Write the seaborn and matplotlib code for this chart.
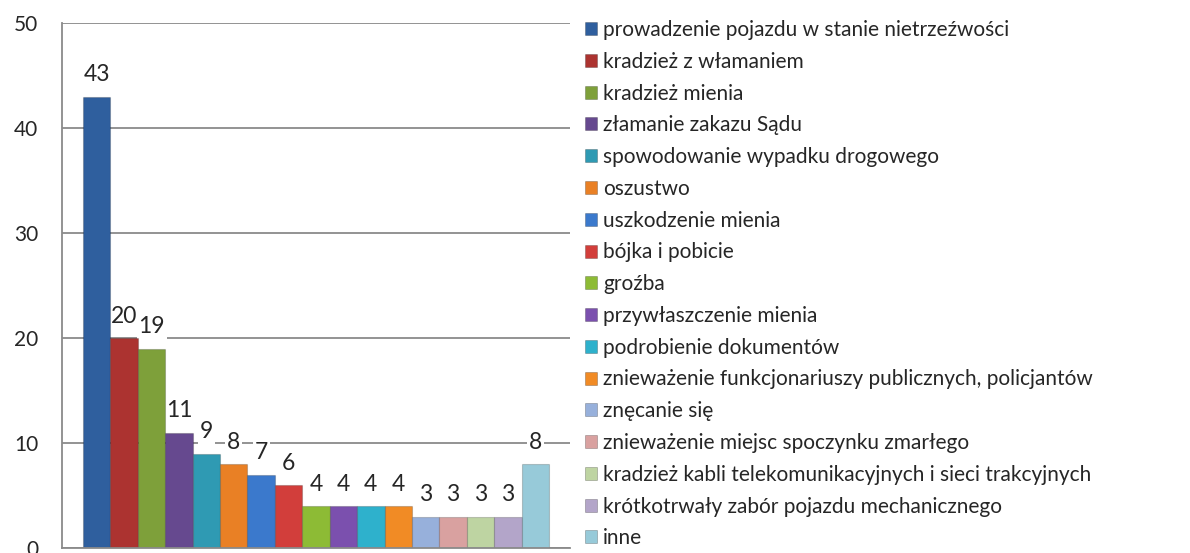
import matplotlib
matplotlib.use("Agg")
import matplotlib.pyplot as plt
import matplotlib.patches as mpatches
import seaborn as sns
import pandas as pd

categories = [
    "prowadzenie pojazdu w stanie nietrzeźwości",
    "kradzież z włamaniem",
    "kradzież mienia",
    "złamanie zakazu Sądu",
    "spowodowanie wypadku drogowego",
    "oszustwo",
    "uszkodzenie mienia",
    "bójka i pobicie",
    "groźba",
    "przywłaszczenie mienia",
    "podrobienie dokumentów",
    "znieważenie funkcjonariuszy publicznych, policjantów",
    "znęcanie się",
    "znieważenie miejsc spoczynku zmarłego",
    "kradzież kabli telekomunikacyjnych i sieci trakcyjnych",
    "krótkotrwały zabór pojazdu mechanicznego",
    "inne",
]
values = [43, 20, 19, 11, 9, 8, 7, 6, 4, 4, 4, 4, 3, 3, 3, 3, 8]
colors = [
    "#2F5F9E", "#AC3330", "#7EA03A", "#66498F", "#2F9AB3", "#E98025",
    "#3B79CC", "#D23E3B", "#8DBB35", "#7B50AE", "#2EB1CC", "#F18B25",
    "#97B0DB", "#D9A1A0", "#BED4A2", "#B3A5C9", "#97CAD9",
]
yticks = [0, 10, 20, 30, 40, 50]

sns.set_style("white")
plt.rcParams["font.family"] = ["Lato", "DejaVu Sans"]

fig = plt.figure(figsize=(11.9, 5.53), dpi=100)
ax = fig.add_axes([62 / 1190, 5 / 553, 508 / 1190, 525 / 553])

df = pd.DataFrame({"cat": categories, "val": values})
sns.barplot(data=df, x="cat", y="val", hue="cat", palette=colors,
            width=1.0, legend=False, ax=ax, saturation=1,
            edgecolor="#00000030", linewidth=0.8, zorder=2)

gap = 0.77
ax.set_xlim(-0.5 - gap, len(categories) - 0.5 + gap)
ax.set_ylim(0, 50)
ax.set_yticks(yticks)
ax.set_yticklabels([str(t) for t in yticks], fontsize=15)
ax.set_xticks([-0.5 - gap, len(categories) - 0.5 + gap])
ax.set_xticklabels(["", ""])
ax.set_xlabel("")
ax.set_ylabel("")
ax.yaxis.grid(True, color="#8A8A8A", linewidth=1.3)
ax.set_axisbelow(True)
for s in ["top", "right"]:
    ax.spines[s].set_visible(False)
for s in ["left", "bottom"]:
    ax.spines[s].set_color("#8A8A8A")
    ax.spines[s].set_linewidth(1.3)
    ax.spines[s].set_zorder(3)
ax.tick_params(axis="y", length=9, width=1.3, color="#8A8A8A", pad=8)
ax.tick_params(axis="x", length=8, width=1.3, color="#8A8A8A", direction="out")

for i, v in enumerate(values):
    ax.annotate(str(v), (i, v), xytext=(0, 8), textcoords="offset points",
                ha="center", va="bottom", fontsize=16.5, zorder=1,
                bbox=dict(boxstyle="square,pad=0.08", fc="white", ec="none"))

handles = [mpatches.Patch(facecolor=c, edgecolor="#00000040", linewidth=0.6) for c in colors]
leg = fig.legend(handles, categories, loc="upper left",
                 bbox_to_anchor=(585 / 1190, 1 - 20 / 553),
                 frameon=False, fontsize=15, handlelength=0.58,
                 handleheight=0.58, handletextpad=0.3, labelspacing=0.565,
                 borderaxespad=0, borderpad=0)

fig.savefig("out.png", dpi=100)
